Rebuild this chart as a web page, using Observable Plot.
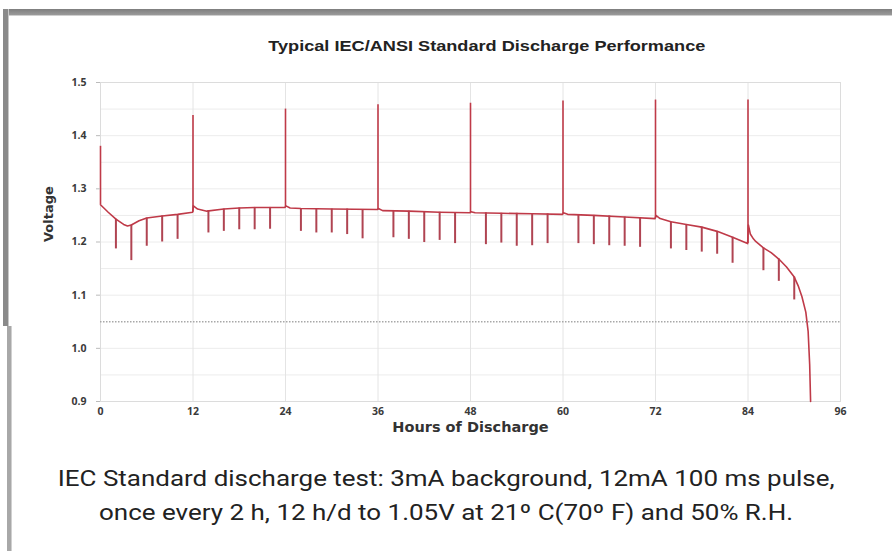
<!DOCTYPE html>
<html><head><meta charset="utf-8">
<script src="https://cdn.jsdelivr.net/npm/d3@7"></script>
<script src="https://cdn.jsdelivr.net/npm/@observablehq/plot@0.6"></script>
<style>
body{margin:0;background:#fff;}
#wrap{position:relative;width:892px;height:551px;overflow:hidden;background:#fff;}
#topbar{position:absolute;left:3px;top:9px;width:889px;height:6px;background:linear-gradient(#7e7e7e,#9a9a9a);border-bottom:1px solid #cfcfcf;}
#leftbar1{position:absolute;left:3px;top:9px;width:5px;height:317px;background:#8a8a8a;border-right:1px solid #c8c8c8;}
#leftbar2{position:absolute;left:7px;top:326px;width:4px;height:225px;background:#a8a8a8;border-right:1px solid #d0d0d0;}
#title{position:absolute;left:0;width:892px;top:37px;text-align:center;padding-left:82px;box-sizing:border-box;}
#title span{display:inline-block;font:bold 15.5px "Liberation Sans",Arial,sans-serif;color:#222;transform:scaleX(1.17);}
#chart{position:absolute;left:0;top:0;}
#caption{position:absolute;left:0;width:892px;top:462px;text-align:center;font:22px Roboto,sans-serif;color:#222;line-height:34px;}
#caption div span{display:inline-block;transform:scaleX(1.18);}
</style></head>
<body>
<div id="wrap">
  <div id="topbar"></div><div id="leftbar1"></div><div id="leftbar2"></div>
  <div id="title"></div>
  <div id="chart"></div>
  <div id="caption"></div>
</div>
<script>
const chartTitle = "Typical IEC/ANSI Standard Discharge Performance";
const captionLines = [
  "IEC Standard discharge test: 3mA background, 12mA 100 ms pulse,",
  "once every 2 h, 12 h/d to 1.05V at 21º C(70º F) and 50% R.H."
];
const xLabel = "Hours of Discharge";
const yLabel = "Voltage";
const xTicks = [0, 12, 24, 36, 48, 60, 72, 84, 96];
const yTicks = [0.9, 1.0, 1.1, 1.2, 1.3, 1.4, 1.5];
const yGrid = [0.95, 1.0, 1.1, 1.15, 1.2, 1.25, 1.3, 1.35, 1.4, 1.45];
const cutoffVoltage = 1.05;

// background (3 mA) voltage curve
const curveHours = [0, 1, 2, 3, 3.5, 4, 5, 6, 8, 10, 11.95,
  12.05, 12.6, 13.8, 16, 18, 20, 23.95,
  24.05, 24.6, 26, 30, 35.95,
  36.05, 36.6, 40, 44, 47.95,
  48.05, 48.6, 52, 56, 59.95,
  60.05, 60.6, 64, 68, 71.95,
  72.05, 72.6, 74, 76, 78, 80, 82, 83.95,
  84.05, 84.3, 84.7, 85, 86, 87, 88, 89, 90, 90.5, 91, 91.5, 91.8, 92.0, 92.12];
const curveVolts = [1.270, 1.256, 1.243, 1.233, 1.230, 1.232, 1.240, 1.245, 1.249, 1.252, 1.256,
  1.268, 1.262, 1.258, 1.262, 1.264, 1.265, 1.265,
  1.268, 1.264, 1.263, 1.262, 1.261,
  1.263, 1.259, 1.258, 1.256, 1.255,
  1.257, 1.255, 1.254, 1.253, 1.252,
  1.255, 1.252, 1.250, 1.247, 1.244,
  1.250, 1.244, 1.238, 1.233, 1.228, 1.220, 1.209, 1.197,
  1.232, 1.215, 1.206, 1.201, 1.189, 1.180, 1.168, 1.153, 1.134, 1.118, 1.097, 1.068, 1.032, 0.97, 0.90];

// 12 mA pulse dips
const dipHours = [2, 4, 6, 8, 10, 14, 16, 18, 20, 22, 26, 28, 30, 32, 34, 38, 40, 42, 44, 46,
  50, 52, 54, 56, 58, 62, 64, 66, 68, 70, 74, 76, 78, 80, 82, 86, 88, 90];
const dipTop = [1.243, 1.232, 1.245, 1.249, 1.251, 1.259, 1.262, 1.264, 1.265, 1.265, 1.263, 1.263, 1.262, 1.262, 1.261,
  1.259, 1.258, 1.257, 1.256, 1.255, 1.255, 1.254, 1.254, 1.253, 1.253, 1.251, 1.250, 1.249, 1.247, 1.245,
  1.238, 1.233, 1.228, 1.220, 1.209, 1.189, 1.168, 1.134];
const dipLow = [1.187, 1.165, 1.192, 1.200, 1.205, 1.217, 1.220, 1.223, 1.223, 1.224, 1.220, 1.217, 1.217, 1.214, 1.206,
  1.208, 1.205, 1.199, 1.203, 1.197, 1.195, 1.198, 1.192, 1.193, 1.197, 1.197, 1.195, 1.193, 1.192, 1.190,
  1.187, 1.184, 1.181, 1.177, 1.160, 1.146, 1.126, 1.091];

// recovery spikes after daily 12 h rest
const spikeHours = [0, 12, 24, 36, 48, 60, 72, 84];
const spikeBase = [1.270, 1.256, 1.265, 1.261, 1.255, 1.252, 1.244, 1.197];
const spikePeak = [1.380, 1.438, 1.450, 1.458, 1.461, 1.465, 1.467, 1.467];

const curve = curveHours.map((h, i) => ({h, v: curveVolts[i]}));
const dips = dipHours.map((h, i) => ({h, top: dipTop[i], low: dipLow[i]}));
const spikes = spikeHours.map((h, i) => ({h, base: spikeBase[i], peak: spikePeak[i]}));

const red = "#bf3a48";
const tickFont = {fontSize: 10.5, fontWeight: "bold", fill: "#3a3a3a", fontFamily: "'Open Sans', sans-serif"};

const plot = Plot.plot({
  width: 892, height: 445,
  marginLeft: 100, marginRight: 52, marginTop: 82, marginBottom: 44,
  style: {fontFamily: "'Open Sans', sans-serif", background: "transparent", overflow: "visible"},
  x: {domain: [0, 96]},
  y: {domain: [0.9, 1.5]},
  marks: [
    Plot.gridY(yGrid, {stroke: "#ececec", strokeOpacity: 1}),
    Plot.gridX(xTicks, {stroke: "#e4e4e4", strokeOpacity: 1}),
    Plot.frame({stroke: "#dcdcdc"}),
    Plot.ruleY([cutoffVoltage], {stroke: "#a8a8a8", strokeWidth: 1.5, strokeDasharray: "1.5,1.5"}),
    Plot.ruleX(dips, {x: "h", y1: "top", y2: "low", stroke: "#b04452", strokeWidth: 2}),
    Plot.ruleX(spikes, {x: "h", y1: "base", y2: "peak", stroke: red, strokeWidth: 1.6}),
    Plot.line(curve, {x: "h", y: "v", stroke: red, strokeWidth: 1.6}),
    Plot.axisY(yTicks, {tickSize: 4, tickPadding: 10, stroke: "#bbb", tickFormat: d => d.toFixed(1), label: null, ...tickFont}),
    Plot.axisX(xTicks, {tickSize: 0, tickPadding: 6, label: null, ...tickFont}),
    Plot.text([yLabel], {frameAnchor: "left", dx: -52, rotate: -90, fontSize: 13, fontWeight: "bold", fill: "#333", fontFamily: "'DejaVu Sans', sans-serif"}),
    Plot.text([xLabel], {frameAnchor: "bottom", dy: 30, fontSize: 14.5, fontWeight: "bold", fill: "#333", fontFamily: "'DejaVu Sans', sans-serif"})
  ]
});
document.getElementById("chart").appendChild(plot);
const t = document.createElement("span"); t.textContent = chartTitle;
document.getElementById("title").appendChild(t);
const cap = document.getElementById("caption");
captionLines.forEach(s => { const d = document.createElement("div"); const sp = document.createElement("span"); sp.textContent = s; d.appendChild(sp); cap.appendChild(d); });
</script>
</body></html>
